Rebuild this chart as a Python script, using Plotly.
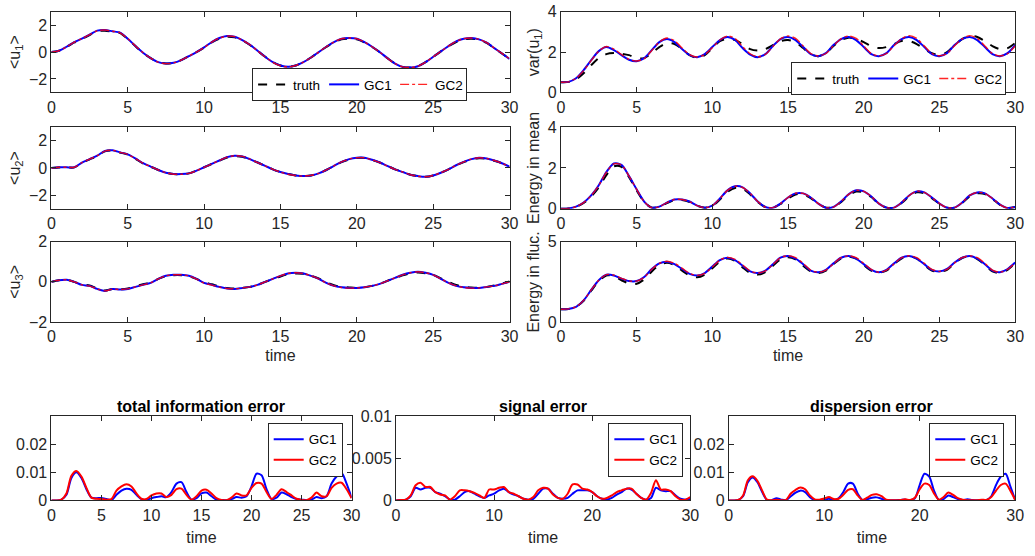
import plotly.graph_objects as go

# ---------------- data (time step 0.5, t = 0 .. 30) ----------------
t = [i * 0.5 for i in range(61)]

u1_truth = [0, 0.1, 0.38, 0.72, 0.98, 1.27, 1.55, 1.6, 1.52, 1.42, 0.98, 0.45, -0.05, -0.45, -0.75, -0.85, -0.8, -0.6, -0.3, 0.0,
            0.33, 0.72, 1.0, 1.15, 1.1, 0.88, 0.53, 0.1, -0.35, -0.75, -1.0, -1.1, -1.0, -0.75, -0.4, 0.0, 0.38, 0.72, 0.95, 1.0,
            0.95, 0.72, 0.38, 0.0, -0.45, -0.85, -1.1, -1.15, -1.05, -0.75, -0.35, 0.05, 0.43, 0.75, 0.95, 1.0, 0.92, 0.68, 0.3, -0.1, -0.5]
u1_gc1 = [0, 0.1, 0.4, 0.75, 1.0, 1.3, 1.6, 1.65, 1.55, 1.45, 1.0, 0.45, -0.05, -0.45, -0.75, -0.85, -0.8, -0.6, -0.3, 0.0,
          0.35, 0.75, 1.05, 1.2, 1.15, 0.9, 0.55, 0.1, -0.35, -0.75, -1.0, -1.1, -1.0, -0.75, -0.4, 0.0, 0.4, 0.75, 1.0, 1.05,
          1.0, 0.75, 0.4, 0.0, -0.45, -0.85, -1.1, -1.15, -1.05, -0.75, -0.35, 0.05, 0.45, 0.8, 1.0, 1.05, 0.95, 0.7, 0.3, -0.1, -0.5]
u1_gc2 = [0, 0.1, 0.4, 0.74, 1.0, 1.3, 1.59, 1.65, 1.56, 1.44, 1.0, 0.46, -0.04, -0.45, -0.76, -0.86, -0.8, -0.6, -0.3, 0.0,
          0.35, 0.75, 1.05, 1.19, 1.15, 0.9, 0.55, 0.1, -0.36, -0.76, -1.02, -1.11, -1.0, -0.75, -0.4, 0.0, 0.4, 0.75, 1.0, 1.05,
          1.0, 0.75, 0.4, 0.0, -0.46, -0.86, -1.1, -1.15, -1.05, -0.75, -0.35, 0.05, 0.45, 0.8, 1.0, 1.05, 0.95, 0.7, 0.3, -0.1, -0.5]

u2_truth = [0, 0.04, 0.04, 0.04, 0.38, 0.63, 0.88, 1.22, 1.28, 1.13, 0.98, 0.68, 0.33, 0.1, -0.15, -0.35, -0.45, -0.45, -0.4, -0.2,
            0.05, 0.3, 0.53, 0.77, 0.87, 0.83, 0.63, 0.4, 0.15, -0.1, -0.3, -0.45, -0.55, -0.6, -0.55, -0.4, -0.15, 0.15, 0.43, 0.63,
            0.73, 0.73, 0.58, 0.4, 0.15, -0.1, -0.3, -0.5, -0.6, -0.65, -0.55, -0.35, -0.1, 0.2, 0.43, 0.63, 0.72, 0.68, 0.53, 0.35, 0.1]
u2_gc1 = [0, 0.05, 0.05, 0.05, 0.4, 0.65, 0.9, 1.25, 1.3, 1.15, 1.0, 0.7, 0.35, 0.1, -0.15, -0.35, -0.45, -0.45, -0.4, -0.2,
          0.05, 0.3, 0.55, 0.8, 0.9, 0.85, 0.65, 0.4, 0.15, -0.1, -0.3, -0.45, -0.55, -0.6, -0.55, -0.4, -0.15, 0.15, 0.45, 0.65,
          0.75, 0.75, 0.6, 0.4, 0.15, -0.1, -0.3, -0.5, -0.6, -0.65, -0.55, -0.35, -0.1, 0.2, 0.45, 0.65, 0.75, 0.7, 0.55, 0.35, 0.1]
u2_gc2 = [0, 0.05, 0.05, 0.05, 0.4, 0.65, 0.9, 1.24, 1.3, 1.15, 1.0, 0.7, 0.35, 0.1, -0.15, -0.35, -0.46, -0.46, -0.4, -0.2,
          0.05, 0.3, 0.55, 0.8, 0.9, 0.85, 0.65, 0.4, 0.15, -0.1, -0.3, -0.46, -0.56, -0.6, -0.55, -0.4, -0.15, 0.15, 0.45, 0.65,
          0.75, 0.75, 0.6, 0.4, 0.15, -0.1, -0.3, -0.5, -0.61, -0.65, -0.55, -0.35, -0.1, 0.2, 0.45, 0.65, 0.75, 0.7, 0.55, 0.35, 0.1]

u3_truth = [0, 0.08, 0.1, 0.0, -0.13, -0.18, -0.33, -0.43, -0.35, -0.37, -0.33, -0.22, -0.12, -0.03, 0.15, 0.28, 0.33, 0.33, 0.28, 0.15,
            -0.02, -0.12, -0.23, -0.3, -0.33, -0.3, -0.25, -0.15, 0.0, 0.13, 0.27, 0.38, 0.42, 0.4, 0.3, 0.17, -0.02, -0.17, -0.25, -0.28,
            -0.3, -0.27, -0.2, -0.1, 0.05, 0.18, 0.32, 0.42, 0.47, 0.43, 0.35, 0.17, 0.0, -0.15, -0.24, -0.28, -0.29, -0.25, -0.18, -0.08, 0.02]
u3_gc1 = [0, 0.08, 0.1, 0.0, -0.15, -0.2, -0.35, -0.45, -0.35, -0.38, -0.35, -0.25, -0.15, -0.05, 0.15, 0.3, 0.35, 0.35, 0.3, 0.15,
          -0.05, -0.15, -0.25, -0.33, -0.35, -0.3, -0.25, -0.15, 0.0, 0.15, 0.3, 0.42, 0.45, 0.42, 0.3, 0.15, -0.05, -0.2, -0.27, -0.3,
          -0.3, -0.27, -0.2, -0.1, 0.05, 0.2, 0.35, 0.45, 0.5, 0.45, 0.35, 0.15, -0.05, -0.2, -0.27, -0.3, -0.3, -0.25, -0.2, -0.1, 0.0]
u3_gc2 = [0, 0.08, 0.1, 0.0, -0.15, -0.21, -0.35, -0.45, -0.36, -0.38, -0.35, -0.25, -0.15, -0.05, 0.15, 0.3, 0.35, 0.35, 0.3, 0.14,
          -0.06, -0.16, -0.26, -0.33, -0.35, -0.3, -0.25, -0.15, 0.0, 0.15, 0.3, 0.42, 0.45, 0.42, 0.3, 0.15, -0.05, -0.2, -0.28, -0.31,
          -0.3, -0.27, -0.2, -0.1, 0.05, 0.2, 0.35, 0.45, 0.5, 0.45, 0.35, 0.15, -0.05, -0.2, -0.28, -0.31, -0.3, -0.25, -0.2, -0.1, 0.0]

var_truth = [0.5, 0.52, 0.65, 0.95, 1.35, 1.7, 1.9, 1.95, 1.92, 1.85, 1.7, 1.7, 1.95, 2.25, 2.45, 2.4, 2.15, 1.85, 1.72, 1.85,
             2.2, 2.55, 2.65, 2.6, 2.4, 2.15, 2.08, 2.15, 2.35, 2.55, 2.6, 2.5, 2.2, 1.9, 1.8, 1.95, 2.3, 2.6, 2.72, 2.65,
             2.5, 2.3, 2.2, 2.25, 2.4, 2.55, 2.55, 2.4, 2.15, 1.95, 1.85, 2.0, 2.35, 2.65, 2.8, 2.75, 2.55, 2.3, 2.15, 2.2, 2.45]
var_gc1 = [0.5, 0.52, 0.7, 1.1, 1.6, 2.05, 2.25, 2.1, 1.85, 1.62, 1.55, 1.7, 2.1, 2.5, 2.65, 2.5, 2.15, 1.85, 1.75, 1.9,
           2.25, 2.6, 2.75, 2.6, 2.2, 1.88, 1.75, 1.9, 2.3, 2.65, 2.75, 2.6, 2.25, 1.9, 1.8, 1.95, 2.35, 2.65, 2.75, 2.6,
           2.25, 1.9, 1.8, 1.95, 2.35, 2.65, 2.75, 2.6, 2.25, 1.9, 1.8, 1.95, 2.35, 2.65, 2.75, 2.6, 2.25, 1.9, 1.8, 1.95, 2.35]
var_gc2 = [0.5, 0.52, 0.7, 1.08, 1.58, 2.05, 2.28, 2.15, 1.88, 1.64, 1.56, 1.68, 2.08, 2.5, 2.7, 2.57, 2.2, 1.88, 1.76, 1.88,
           2.22, 2.6, 2.8, 2.68, 2.27, 1.92, 1.77, 1.88, 2.28, 2.66, 2.8, 2.68, 2.3, 1.93, 1.81, 1.93, 2.32, 2.66, 2.8, 2.68,
           2.3, 1.93, 1.81, 1.93, 2.32, 2.66, 2.82, 2.68, 2.3, 1.93, 1.82, 1.93, 2.32, 2.66, 2.82, 2.68, 2.3, 1.93, 1.81, 1.92, 2.3]

emean_truth = [0.0, 0.01, 0.09, 0.28, 0.6, 1.05, 1.65, 2.08, 2.05, 1.55, 0.9, 0.33, 0.05, 0.1, 0.27, 0.42, 0.42, 0.33, 0.14, 0.05,
               0.14, 0.45, 0.82, 1.02, 0.98, 0.7, 0.33, 0.08, 0.05, 0.23, 0.5, 0.7, 0.7, 0.52, 0.24, 0.05, 0.08, 0.32, 0.65, 0.84,
               0.8, 0.57, 0.24, 0.05, 0.05, 0.28, 0.6, 0.8, 0.76, 0.52, 0.24, 0.05, 0.05, 0.28, 0.6, 0.75, 0.72, 0.48, 0.19, 0.03, 0.08]
emean_gc1 = [0.0, 0.01, 0.1, 0.3, 0.65, 1.15, 1.8, 2.22, 2.15, 1.6, 0.95, 0.35, 0.05, 0.1, 0.3, 0.45, 0.45, 0.35, 0.15, 0.05,
             0.15, 0.5, 0.9, 1.1, 1.05, 0.75, 0.35, 0.08, 0.05, 0.25, 0.55, 0.75, 0.75, 0.55, 0.25, 0.05, 0.08, 0.35, 0.7, 0.9,
             0.85, 0.6, 0.25, 0.05, 0.05, 0.3, 0.65, 0.85, 0.8, 0.55, 0.25, 0.05, 0.05, 0.3, 0.65, 0.8, 0.75, 0.5, 0.2, 0.03, 0.08]
emean_gc2 = [0.0, 0.01, 0.1, 0.3, 0.64, 1.14, 1.78, 2.2, 2.14, 1.6, 0.95, 0.35, 0.05, 0.1, 0.3, 0.45, 0.45, 0.35, 0.15, 0.05,
             0.15, 0.5, 0.9, 1.1, 1.04, 0.75, 0.35, 0.08, 0.05, 0.25, 0.55, 0.76, 0.75, 0.55, 0.25, 0.05, 0.08, 0.35, 0.7, 0.9,
             0.85, 0.6, 0.25, 0.05, 0.05, 0.3, 0.65, 0.86, 0.8, 0.55, 0.25, 0.05, 0.05, 0.3, 0.65, 0.8, 0.75, 0.5, 0.2, 0.03, 0.08]

efluc_truth = [0.8, 0.82, 0.95, 1.33, 1.95, 2.55, 2.9, 2.85, 2.6, 2.4, 2.38, 2.65, 3.15, 3.55, 3.68, 3.55, 3.2, 2.9, 2.78, 2.95,
               3.35, 3.75, 3.95, 3.8, 3.4, 3.05, 2.95, 3.1, 3.5, 3.9, 4.03, 3.9, 3.5, 3.15, 3.05, 3.2, 3.6, 3.95, 4.07, 3.95,
               3.55, 3.2, 3.08, 3.2, 3.6, 3.95, 4.08, 3.95, 3.55, 3.2, 3.12, 3.25, 3.65, 3.98, 4.08, 3.92, 3.55, 3.15, 3.05, 3.25, 3.65]
efluc_gc1 = [0.8, 0.82, 0.95, 1.35, 2.0, 2.6, 2.95, 2.9, 2.7, 2.55, 2.55, 2.8, 3.3, 3.65, 3.75, 3.6, 3.3, 3.0, 2.9, 3.05,
             3.45, 3.85, 4.0, 3.85, 3.5, 3.15, 3.05, 3.2, 3.6, 4.0, 4.1, 3.95, 3.6, 3.2, 3.1, 3.25, 3.65, 4.0, 4.1, 3.95,
             3.6, 3.25, 3.1, 3.25, 3.65, 4.0, 4.1, 3.95, 3.6, 3.25, 3.15, 3.3, 3.7, 4.0, 4.1, 3.95, 3.6, 3.2, 3.1, 3.3, 3.7]
efluc_gc2 = [0.8, 0.82, 0.95, 1.35, 2.0, 2.6, 2.95, 2.92, 2.72, 2.56, 2.55, 2.78, 3.28, 3.65, 3.78, 3.65, 3.35, 3.03, 2.9, 3.03,
             3.42, 3.85, 4.02, 3.9, 3.55, 3.18, 3.05, 3.18, 3.58, 4.0, 4.12, 4.0, 3.65, 3.23, 3.1, 3.23, 3.62, 4.0, 4.12, 4.0,
             3.65, 3.27, 3.1, 3.23, 3.62, 4.0, 4.12, 4.0, 3.65, 3.27, 3.15, 3.28, 3.68, 4.0, 4.12, 4.0, 3.65, 3.23, 3.1, 3.28, 3.68]

tot_gc1 = [0, 0, 0.0003, 0.002, 0.008, 0.01, 0.008, 0.004, 0.001, 0.0008, 0.0009, 0.0005, 0.0001, 0.002, 0.0035, 0.0042, 0.0038, 0.002, 0.0005, 0.0002,
           0.0008, 0.0012, 0.0015, 0.0012, 0.003, 0.006, 0.0065, 0.003, 0.0003, 0.0008, 0.0025, 0.0028, 0.0015, 0.0003, 0.0002, 0.0001, 0.0005, 0.0012, 0.001, 0.0015,
           0.005, 0.0095, 0.009, 0.004, 0.0005, 0.001, 0.0028, 0.0022, 0.0012, 0.0005, 0.0003, 0.0001, 0.0003, 0.0012, 0.0008, 0.0015, 0.006, 0.0085, 0.0098, 0.006, 0.001]
tot_gc2 = [0, 0, 0.0003, 0.0025, 0.0088, 0.0105, 0.0085, 0.0045, 0.001, 0.0006, 0.0005, 0.0003, 0.0005, 0.0035, 0.005, 0.0058, 0.005, 0.0025, 0.0006, 0.0005,
           0.0018, 0.0025, 0.0025, 0.0012, 0.002, 0.004, 0.0042, 0.002, 0.0003, 0.0015, 0.0035, 0.0038, 0.0025, 0.0008, 0.0002, 0.0001, 0.001, 0.0025, 0.0018, 0.0018,
           0.0045, 0.0062, 0.006, 0.003, 0.0005, 0.002, 0.004, 0.003, 0.0018, 0.0006, 0.0002, 0.0001, 0.001, 0.0028, 0.0015, 0.0015, 0.0045, 0.006, 0.0063, 0.004, 0.0008]

sig_gc1 = [0, 0.00005, 0.0001, 0.0005, 0.0015, 0.0013, 0.0015, 0.0015, 0.001, 0.0008, 0.0005, 0.0001, 0.0001, 0.0005, 0.001, 0.0011, 0.0008, 0.0005, 0.0003, 0.0006,
           0.0008, 0.0012, 0.0014, 0.001, 0.0007, 0.0005, 0.0002, 0.0001, 0.0002, 0.0008, 0.0014, 0.0014, 0.0008, 0.0003, 0.0002, 0.0003, 0.0008, 0.0012, 0.0012, 0.0012,
           0.001, 0.0005, 0.0002, 0.0001, 0.0003, 0.0007, 0.001, 0.0014, 0.0013, 0.0008, 0.0003, 0.0001, 0.0003, 0.0015, 0.0012, 0.0011, 0.0011, 0.0006, 0.0002, 0.0001, 0.0002]
sig_gc2 = [0, 0.00005, 0.0001, 0.0006, 0.0018, 0.0021, 0.0016, 0.0016, 0.001, 0.0007, 0.0006, 0.0001, 0.0005, 0.0012, 0.0012, 0.0011, 0.0009, 0.0006, 0.0003, 0.0013,
           0.0013, 0.0015, 0.0016, 0.001, 0.0008, 0.0005, 0.0002, 0.0001, 0.0004, 0.0012, 0.0015, 0.0014, 0.0007, 0.0003, 0.0002, 0.0008, 0.0019, 0.0019, 0.0014, 0.0013,
           0.001, 0.0005, 0.0002, 0.0003, 0.0006, 0.001, 0.0012, 0.0014, 0.0014, 0.0008, 0.0003, 0.0001, 0.0009, 0.0024, 0.0013, 0.0013, 0.0011, 0.0005, 0.0001, 0.0001, 0.0004]

disp_gc1 = [0, 0, 0.0002, 0.0015, 0.0065, 0.0082, 0.0065, 0.003, 0.0002, 0.0001, 0.0008, 0.0003, 0.0001, 0.0015, 0.0028, 0.0035, 0.003, 0.0012, 0.0002, 0.0001,
            0.0003, 0.0006, 0.0002, 0.0008, 0.003, 0.006, 0.006, 0.0025, 0.0002, 0.0005, 0.001, 0.0011, 0.0006, 0.0001, 0.0001, 0.0001, 0.0002, 0.0003, 0.0001, 0.0008,
            0.0055, 0.0095, 0.0085, 0.0035, 0.0002, 0.0005, 0.0018, 0.0012, 0.0005, 0.0002, 0.0004, 0.0002, 0.0001, 0.0002, 0.0002, 0.0015, 0.0055, 0.0085, 0.0095, 0.005, 0.0002]
disp_gc2 = [0, 0, 0.0002, 0.0018, 0.0072, 0.0086, 0.007, 0.0035, 0.0003, 0.0001, 0.0003, 0.0001, 0.0002, 0.0025, 0.0038, 0.0046, 0.004, 0.0018, 0.0004, 0.0003,
            0.0007, 0.0012, 0.0005, 0.0006, 0.002, 0.0038, 0.004, 0.0018, 0.0002, 0.001, 0.002, 0.0022, 0.0015, 0.0003, 0.0001, 0.0001, 0.0002, 0.0004, 0.0002, 0.001,
            0.004, 0.006, 0.0055, 0.0025, 0.0003, 0.0012, 0.0028, 0.002, 0.0008, 0.0003, 0.0001, 0.0001, 0.0001, 0.0003, 0.0002, 0.0012, 0.0035, 0.0055, 0.006, 0.0035, 0.0002]

# ---------------- layout helpers ----------------
W, H = 1035, 556
FONT = "Liberation Sans, Arial, Helvetica, sans-serif"
AX = "#262626"
TICK = 16
LAB = 16


def xd(a, b):
    return [a / W, b / W]


def yd(top, bot):
    return [1 - bot / H, 1 - top / H]


panels = [
    dict(x=(48, 512), y=(4, 87), yr=[-3, 3], yt=[-2, 0, 2], yl="&lt;u<sub>1</sub>&gt;", xt=[0, 5, 10, 15, 20, 25, 30], xl=None, st=0),
    dict(x=(564, 1024), y=(4, 87), yr=[0, 4], yt=[0, 2, 4], yl="var(u<sub>1</sub>)", xt=[0, 5, 10, 15, 20, 25, 30], xl=None, st=0),
    dict(x=(48, 512), y=(123, 207), yr=[-3, 3], yt=[-2, 0, 2], yl="&lt;u<sub>2</sub>&gt;", xt=[0, 5, 10, 15, 20, 25, 30], xl=None, st=0),
    dict(x=(564, 1024), y=(123, 207), yr=[0, 4], yt=[0, 2, 4], yl="Energy in mean", xt=[0, 5, 10, 15, 20, 25, 30], xl=None, st=0),
    dict(x=(48, 512), y=(241, 324), yr=[-2, 2], yt=[-2, 0, 2], yl="&lt;u<sub>3</sub>&gt;", xt=[0, 5, 10, 15, 20, 25, 30], xl="time", st=5),
    dict(x=(564, 1024), y=(241, 324), yr=[0, 5], yt=[0, 5], yl="Energy in fluc.", xt=[0, 5, 10, 15, 20, 25, 30], xl="time", st=5),
    dict(x=(48, 352), y=(421, 508), yr=[0, 0.03], yt=[0, 0.01, 0.02], yl=None, xt=[0, 5, 10, 15, 20, 25, 30], xl="time", st=9),
    dict(x=(397, 695), y=(421, 508), yr=[0, 0.01], yt=[0, 0.005, 0.01], yl=None, xt=[0, 10, 20, 30], xl="time", st=9),
    dict(x=(734, 1024), y=(421, 508), yr=[0, 0.03], yt=[0, 0.01, 0.02], yl=None, xt=[0, 10, 20, 30], xl="time", st=9),
]

fig = go.Figure()
layout = dict(
    width=W, height=H, margin=dict(l=0, r=0, t=0, b=0),
    paper_bgcolor="white", plot_bgcolor="white",
    font=dict(family=FONT, size=TICK, color=AX),
)

for i, p in enumerate(panels, start=1):
    sx = "" if i == 1 else str(i)
    xa = dict(domain=xd(*p["x"]), anchor="y" + sx, range=[0, 30], tickvals=p["xt"],
              ticks="inside", ticklen=5, tickcolor=AX, showline=True, linecolor=AX, linewidth=1,
              mirror="ticks", showgrid=False, zeroline=False, tickfont=dict(size=TICK, color=AX))
    if p["xl"]:
        xa["title"] = dict(text=p["xl"], standoff=p["st"], font=dict(size=LAB, color=AX))
    ya = dict(domain=yd(*p["y"]), anchor="x" + sx, range=p["yr"], tickvals=p["yt"],
              ticks="inside", ticklen=5, tickcolor=AX, showline=True, linecolor=AX, linewidth=1,
              mirror="ticks", showgrid=False, zeroline=False, tickfont=dict(size=TICK, color=AX))
    if p["yl"]:
        ya["title"] = dict(text=p["yl"], standoff=4, font=dict(size=LAB, color=AX))
    layout["xaxis" + sx] = xa
    layout["yaxis" + sx] = ya


def ax(i):
    return ("x" if i == 1 else "x%d" % i), ("y" if i == 1 else "y%d" % i)


def add(i, y, name, color, dash, width, legend=None):
    xa_, ya_ = ax(i)
    fig.add_trace(go.Scatter(
        x=t, y=y, name=name, mode="lines", xaxis=xa_, yaxis=ya_,
        line=dict(color=color, dash=dash, width=width, shape="spline", smoothing=0.8),
        showlegend=legend is not None, legend=legend or "legend"))


top_sets = [
    (1, u1_truth, u1_gc1, u1_gc2, "legend"),
    (2, var_truth, var_gc1, var_gc2, "legend2"),
    (3, u2_truth, u2_gc1, u2_gc2, None),
    (4, emean_truth, emean_gc1, emean_gc2, None),
    (5, u3_truth, u3_gc1, u3_gc2, None),
    (6, efluc_truth, efluc_gc1, efluc_gc2, None),
]
for i, tr, g1, g2, lg in top_sets:
    add(i, tr, "truth", "black", "dash", 2, lg)
    add(i, g1, "GC1", "blue", "solid", 2, lg)
    add(i, g2, "GC2", "rgba(255,0,0,0.85)", "dashdot", 1.4, lg)

bottom_sets = [
    (7, tot_gc1, tot_gc2, "legend3"),
    (8, sig_gc1, sig_gc2, "legend4"),
    (9, disp_gc1, disp_gc2, "legend5"),
]
for i, g1, g2, lg in bottom_sets:
    add(i, g1, "GC1", "blue", "solid", 2, lg)
    add(i, g2, "GC2", "red", "solid", 2, lg)


def legend(xr, ytop, horiz):
    d = dict(x=xr / W, y=1 - ytop / H, xanchor="right", yanchor="top",
             bgcolor="white", bordercolor=AX, borderwidth=1,
             font=dict(family=FONT, size=13.5, color="black"),
             itemwidth=30, tracegroupgap=0)
    if horiz:
        d.update(orientation="h", entrywidthmode="pixels", entrywidth=26)
    else:
        d.update(orientation="v")
    return d


layout["legend"] = legend(469, 62, True)
layout["legend2"] = legend(1015, 56, True)
layout["legend3"] = legend(343, 428, False)
layout["legend4"] = legend(688, 428, False)
layout["legend5"] = legend(1013, 428, False)

titles = [("total information error", 200), ("signal error", 546), ("dispersion error", 879)]
layout["annotations"] = [
    dict(text="<b>%s</b>" % s, x=cx / W, y=1 - 411 / H, xref="paper", yref="paper",
         showarrow=False, xanchor="center", yanchor="middle",
         font=dict(family=FONT, size=16, color="black"))
    for s, cx in titles
]

fig.update_layout(**layout)
fig.write_html("out.html")
